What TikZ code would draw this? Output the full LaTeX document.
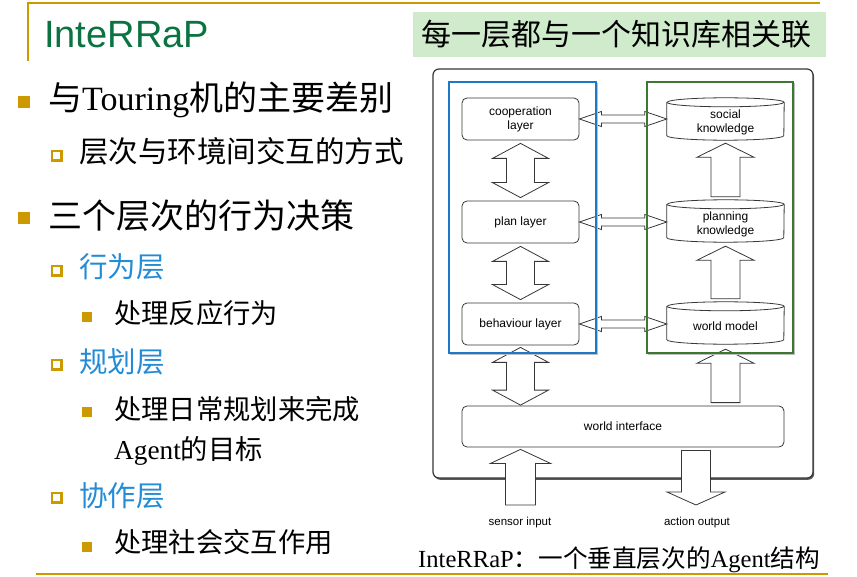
\documentclass[tikz,border=0pt]{standalone}
\usepackage{fontspec}
\setmainfont{Liberation Serif}
\newfontfamily\cjk{Noto Sans CJK SC}
\newfontfamily\arialfont{Liberation Sans}
\usetikzlibrary{calc,shadows}

\definecolor{gold}{RGB}{204,153,0}
\definecolor{titlegreen}{RGB}{10,115,65}
\definecolor{itemblue}{RGB}{35,140,215}
\definecolor{notegreen}{RGB}{208,234,204}
\definecolor{framegray}{RGB}{55,55,55}
\definecolor{layerblue}{RGB}{30,120,200}
\definecolor{kbgreen}{RGB}{60,120,50}

% block arrows
\newcommand\hdarrow[2]{\draw[bigarrow] let \p1=(#1), \p2=(#2) in
  (\x1,\y1) -- (\x1+22pt,\y1+7.5pt) -- (\x1+22pt,\y1+4pt) -- (\x2-22pt,\y1+4pt)
  -- (\x2-22pt,\y1+7.5pt) -- (\x2,\y1) -- (\x2-22pt,\y1-7.5pt) -- (\x2-22pt,\y1-4pt)
  -- (\x1+22pt,\y1-4pt) -- (\x1+22pt,\y1-7.5pt) -- cycle;}
\newcommand\vdarrow[2]{\draw[bigarrow] let \p1=(#1), \p2=(#2) in
  (\x1,\y1) -- (\x1+28pt,\y1-15pt) -- (\x1+14pt,\y1-15pt) -- (\x1+14pt,\y2+15pt)
  -- (\x1+28pt,\y2+15pt) -- (\x1,\y2) -- (\x1-28pt,\y2+15pt) -- (\x1-14pt,\y2+15pt)
  -- (\x1-14pt,\y1-15pt) -- (\x1-28pt,\y1-15pt) -- cycle;}
% #1 base, #2 tip, #3 half head, #4 half shaft, #5 head length
\newcommand\upblock[5]{\draw[bigarrow] let \p1=(#1), \p2=(#2) in
  (\x2,\y2) -- (\x2+#3,\y2-#5) -- (\x2+#4,\y2-#5) -- (\x2+#4,\y1)
  -- (\x2-#4,\y1) -- (\x2-#4,\y2-#5) -- (\x2-#3,\y2-#5) -- cycle;}
\newcommand\downblock[5]{\draw[bigarrow] let \p1=(#1), \p2=(#2) in
  (\x2,\y2) -- (\x2+#3,\y2+#5) -- (\x2+#4,\y2+#5) -- (\x2+#4,\y1)
  -- (\x2-#4,\y1) -- (\x2-#4,\y2+#5) -- (\x2-#3,\y2+#5) -- cycle;}
% database cylinder drawn round a node
\newcommand\drawcyl[1]{%
  \draw[cylline] ($(#1.north west)+(0pt,-4.5pt)$) -- ($(#1.south west)+(0pt,4.5pt)$)
    arc[start angle=180,end angle=360,x radius=58.5pt,y radius=4.5pt]
    -- ($(#1.north east)+(0pt,-4.5pt)$)
    arc[start angle=0,end angle=180,x radius=58.5pt,y radius=4.5pt];
  \draw[cylline] ($(#1.north west)+(0pt,-4.5pt)$)
    arc[start angle=180,end angle=360,x radius=58.5pt,y radius=4.5pt];}
% list bullets
\newcommand\fullbullet[3]{\fill[gold] (#1-#3/2,#2-#3/2) rectangle (#1+#3/2,#2+#3/2);}
\newcommand\openbullet[2]{\fill[gold] (#1-6,#2-6) rectangle (#1+6,#2+6);
  \fill[white] (#1-4,#2-4) rectangle (#1+3,#2+3);}

\begin{document}
\begin{tikzpicture}[x=1pt,y=-1pt,
  goldline/.style={draw=gold,line width=2pt},
  lvlone/.style={anchor=base west,inner sep=0pt,font=\fontsize{34}{40}\selectfont},
  lvltwo/.style={anchor=base west,inner sep=0pt,font=\fontsize{28.5}{34}\selectfont},
  lvlthree/.style={anchor=base west,inner sep=0pt,font=\fontsize{27.3}{32}\selectfont},
  layerbox/.style={draw=framegray,line width=0.8pt,rounded corners=5pt,fill=white,
    minimum width=117,minimum height=42,inner sep=0pt,align=center,
    font=\arialfont\fontsize{12}{14}\selectfont},
  kbnode/.style={minimum width=117,minimum height=42,inner sep=0pt},
  kbtext/.style={inner sep=0pt,align=center,font=\arialfont\fontsize{12}{14}\selectfont},
  cylline/.style={draw=framegray,line width=0.8pt},
  bigarrow/.style={draw=framegray,line width=0.8pt,fill=white,line join=miter},
  diaglabel/.style={inner sep=0pt,font=\arialfont\fontsize{11.5}{14}\selectfont}]

\useasboundingbox (0,0) rectangle (857,577);
\fill[white] (0,0) rectangle (857,577);

% slide frame lines
\draw[goldline] (28,61) -- (28,3) -- (820,3);
\draw[goldline] (36,574) -- (828,574);

% title
\node[anchor=base west,inner sep=0pt,text=titlegreen,
  font=\arialfont\fontsize{38}{44}\selectfont] (title) at (44,48) {InteRRaP};

% note box
\node[fill=notegreen,minimum width=413,minimum height=45,inner sep=0pt,anchor=north west]
  (notebox) at (413,12) {};
\node[anchor=base west,inner sep=0pt,font=\cjk\fontsize{30}{36}\selectfont]
  (notetext) at (421,46) {每一层都与一个知识库相关联};

% bullet list
\fullbullet{23.5}{102}{12}
\node[lvlone] (itemA) at (48,111) {{\cjk 与}Touring{\cjk 机的主要差别}};
\openbullet{56.5}{156}
\node[anchor=base west,inner sep=0pt,font=\cjk\fontsize{29.5}{36}\selectfont]
  (itemAa) at (79,163) {层次与环境间交互的方式};
\fullbullet{23.5}{218}{12}
\node[lvlone] (itemB) at (48,229) {{\cjk 三个层次的行为决策}};
\openbullet{57}{271}
\node[lvltwo,text=itemblue] (itemBa) at (79,278) {{\cjk 行为层}};
\fullbullet{87}{317}{10}
\node[lvlthree] (itemBa1) at (114,324) {{\cjk 处理反应行为}};
\openbullet{57}{365}
\node[lvltwo,text=itemblue] (itemBb) at (79,373) {{\cjk 规划层}};
\fullbullet{87}{411.5}{10}
\node[lvlthree] (itemBb1) at (114,419) {{\cjk 处理日常规划来完成}};
\node[lvlthree] (itemBb2) at (114,459.5) {Agent{\cjk 的目标}};
\openbullet{57}{498}
\node[lvltwo,text=itemblue] (itemBc) at (79,506) {{\cjk 协作层}};
\fullbullet{87}{546.5}{10}
\node[lvlthree] (itemBc1) at (114,552) {{\cjk 处理社会交互作用}};

% caption
\node[anchor=base west,inner sep=0pt,font=\fontsize{24.6}{28}\selectfont]
  (caption) at (418,567) {InteRRaP{\cjk ：一个垂直层次的}Agent{\cjk 结构}};

% architecture frame
\draw[draw=framegray,line width=1.2pt,fill=white,rounded corners=6pt,
  drop shadow={shadow xshift=1.2pt,shadow yshift=-1.8pt,fill=black!65,opacity=1}]
  (433,69) rectangle (813,478);

% layers
\node[layerbox] (coop) at (520.5,119) {cooperation\\layer};
\node[layerbox] (plan) at (520.5,222) {plan layer};
\node[layerbox] (behav) at (520.5,324) {behaviour layer};
\node[layerbox,minimum width=322,minimum height=41] (wi) at (623,426.5) {world interface};

% knowledge bases
\node[kbnode] (sk) at (725.5,119) {};
\node[kbnode] (pk) at (725.5,221) {};
\node[kbnode] (wm) at (725.5,323) {};
\drawcyl{sk}
\drawcyl{pk}
\drawcyl{wm}
\node[kbtext] (sktext) at ($(sk.center)+(0pt,-3pt)$) {social\\knowledge};
\node[kbtext] (pktext) at ($(pk.center)+(0pt,-3pt)$) {planning\\knowledge};
\node[kbtext] (wmtext) at ($(wm.center)+(0pt,-3pt)$) {world model};

% layer <-> layer
\vdarrow{$(coop.south)+(0pt,-3pt)$}{$(plan.north)+(0pt,3pt)$}
\vdarrow{$(plan.south)+(0pt,-3pt)$}{$(behav.north)+(0pt,3pt)$}
\vdarrow{$(behav.south)+(0pt,-2pt)$}{$(coop |- wi.north)+(0pt,0.5pt)$}

% layer <-> knowledge
\hdarrow{coop.east}{sk.west}
\hdarrow{plan.east}{pk.west}
\hdarrow{behav.east}{wm.west}

% knowledge abstraction
\upblock{$(pk.north)+(0pt,3pt)$}{$(sk.south)+(0pt,-3pt)$}{28.5pt}{14.5pt}{14pt}
\upblock{$(wm.north)+(0pt,3pt)$}{$(pk.south)+(0pt,-4pt)$}{28.5pt}{14.5pt}{14pt}
\upblock{$(wi.north -| wm.north)+(0pt,3pt)$}{$(wm.south)+(0pt,-5pt)$}{28.5pt}{14.5pt}{14pt}

% environment
\coordinate (sensorbase) at (520,505);
\coordinate (actiontip) at (696,505);
\upblock{sensorbase}{$(coop |- wi.south)+(0pt,-2pt)$}{30pt}{15pt}{14pt}
\downblock{$(actiontip |- wi.south)+(0pt,-3pt)$}{actiontip}{29pt}{14.5pt}{13pt}
\node[diaglabel] (sensorlabel) at (520,523) {sensor input};
\node[diaglabel] (actionlabel) at (697,523) {action output};

% layer and knowledge-base groups
\draw[draw=black!25,line width=1.3pt] (450,354.5) -- (597.5,354.5) -- (597.5,83);
\draw[draw=black!25,line width=1.3pt] (648,354.5) -- (794.5,354.5) -- (794.5,83);
\draw[draw=layerblue,line width=1.3pt] (449,82) rectangle (596,353);
\draw[draw=kbgreen,line width=1.3pt] (647,82) rectangle (793,353);
\end{tikzpicture}
\end{document}
